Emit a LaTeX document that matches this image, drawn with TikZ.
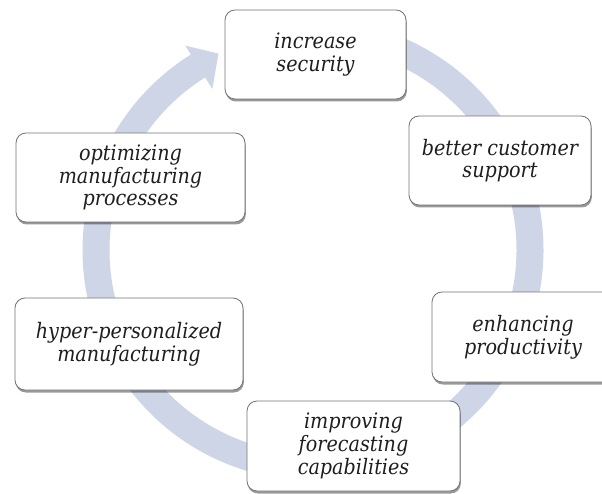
\documentclass[tikz,border=0pt]{standalone}
\usepackage{fontspec}
\IfFontExistsTF{DejaVu Serif Condensed}{\setmainfont{DejaVu Serif Condensed}}{\setmainfont{Liberation Serif}}
\usetikzlibrary{calc,shadows}
\definecolor{ringcol}{RGB}{205,213,230}
\definecolor{boxline}{RGB}{115,115,115}
\definecolor{txt}{RGB}{30,30,30}
\tikzset{
  cyclebox/.style={draw=boxline, line width=0.8pt, fill=white, rounded corners=10pt,
    inner sep=0pt, align=center, text=txt,
    font=\fontsize{21.3}{22.7}\selectfont\itshape,
    drop shadow={shadow xshift=0.8pt, shadow yshift=-2.5pt, opacity=0.4, fill=black}},
  ringstyle/.style={draw=ringcol, line width=27pt}
}
\begin{document}
\begin{tikzpicture}[x=1pt,y=1pt]
\useasboundingbox (0,0) rectangle (602,493);
\coordinate (c) at (313,243);
% ring with arrowhead
\draw[ringstyle] ($(c)+(85:217)$) arc[start angle=85, end angle=-238.5, radius=217];
\coordinate (b1) at ($(c)+(122:241)$);
\coordinate (tip) at ($(c)+(115.7:218)$);
\coordinate (b2) at ($(c)+(122:190)$);
\fill[ringcol] (b1) -- (tip) -- (b2) -- cycle;
% boxes
\node[cyclebox, minimum width=181pt, minimum height=89pt] (n1) at (315.5,438.5) {increase\\security};
\node[cyclebox, minimum width=182pt, minimum height=89pt] (n2) at (500,332.5) {better customer\\support};
\node[cyclebox, minimum width=182pt, minimum height=90pt] (n3) at (523,156) {enhancing\\productivity};
\node[cyclebox, minimum width=213pt, minimum height=90pt] (n4) at (353.5,47) {improving\\forecasting\\capabilities};
\node[cyclebox, minimum width=228pt, minimum height=92pt] (n5) at (129,149) {hyper-personalized\\manufacturing};
\node[cyclebox, minimum width=229pt, minimum height=89pt] (n6) at (130.5,315.5) {optimizing\\manufacturing\\processes};
\end{tikzpicture}
\end{document}
